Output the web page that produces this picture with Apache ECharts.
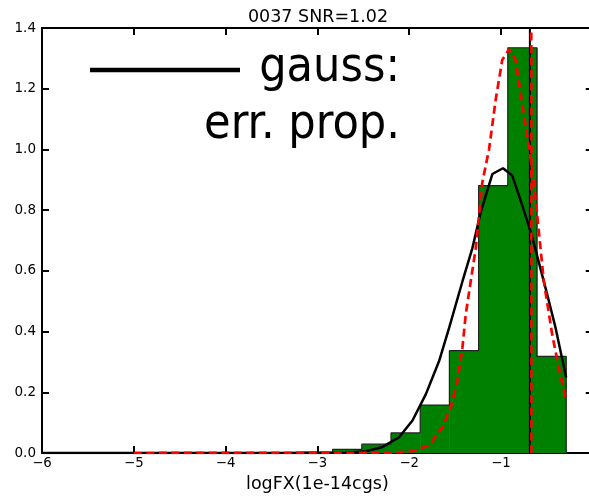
<!DOCTYPE html>
<html><head><meta charset="utf-8">
<script src="https://cdn.jsdelivr.net/npm/echarts@6/dist/echarts.min.js"></script>
<style>html,body{margin:0;padding:0;background:#fff;overflow:hidden}#c{width:600px;height:498px}</style>
</head><body><div id="c"></div>
<script>
const titleText = "0037 SNR=1.02";
const xName = "logFX(1e-14cgs)";
const xTicks = [-6,-5,-4,-3,-2,-1,0];
const yTicks = [0,0.2,0.4,0.6,0.8,1.0,1.2,1.4];
// histogram bins: [left edge, right edge, height]
const binEdges = [-3.470,-3.152,-2.834,-2.516,-2.198,-1.880,-1.562,-1.244,-0.926,-0.608,-0.290];
const binHeights = [0.003,0.004,0.012,0.029,0.066,0.158,0.337,0.881,1.335,0.318];
// gauss fit (black)
const gaussX = [-6.0,-3.0,-2.7,-2.47,-2.29,-2.11,-1.964,-1.818,-1.674,-1.565,-1.42,-1.312,-1.22,-1.094,-0.978,-0.877,-0.768,-0.66,-0.514,-0.405,-0.29];
const gaussY = [0.0,0.0,0.001,0.006,0.02,0.052,0.107,0.194,0.303,0.412,0.565,0.674,0.794,0.919,0.938,0.914,0.816,0.712,0.543,0.412,0.249];
// error propagation curve (red dashed)
const propX = [-5.0,-2.2,-1.964,-1.783,-1.638,-1.547,-1.475,-1.42,-1.384,-1.33,-1.275,-1.239,-1.203,-1.13,-1.057,-0.986,-0.913,-0.84,-0.804,-0.731,-0.66,-0.623,-0.587,-0.533,-0.442,-0.37,-0.297];
const propY = [0.0,0.001,0.006,0.025,0.085,0.15,0.238,0.347,0.456,0.565,0.674,0.783,0.892,1.0,1.165,1.295,1.33,1.295,1.219,1.077,0.935,0.837,0.728,0.565,0.39,0.281,0.183];
const blackVLine = -0.685;
const redVLine = -0.670;
const legendLabel = ["gauss:", "err. prop."];

const fontFam = "DejaVu Sans";
const binData = binHeights.map((h,i)=>[binEdges[i], binEdges[i+1], h]);
const stepOutline = [[binEdges[0],0]];
binHeights.forEach((h,i)=>{ stepOutline.push([binEdges[i],h]); stepOutline.push([binEdges[i+1],h]); });
stepOutline.push([binEdges[binEdges.length-1],0]);
const zip = (a,b)=>a.map((v,i)=>[v,b[i]]);
const fmt = v => (v<0 ? "\u2212"+Math.abs(v) : String(v));

const chart = echarts.init(document.getElementById('c'), null, {renderer:'canvas'});
const axisBase = {
  type:'value', axisLine:{show:true,onZero:false,lineStyle:{color:'#000',width:2}},
  splitLine:{show:false}, axisTick:{show:true,inside:true,length:7,lineStyle:{color:'#000',width:2}}
};
chart.setOption({
  animation:false,
  backgroundColor:'#fff',
  title:{text:titleText,left:318,top:8,padding:0,textAlign:'center',textStyle:{fontFamily:fontFam,fontSize:17.5,fontWeight:'normal',color:'#000'}},
  grid:{left:42,top:28,width:552,height:428},
  xAxis:[
    Object.assign({},axisBase,{min:-6,max:0,interval:1,position:'bottom',
      name:xName,nameLocation:'middle',nameGap:22,nameTextStyle:{fontFamily:fontFam,fontSize:17.5,color:'#000'},
      axisLabel:{fontFamily:fontFam,fontSize:13.3,color:'#000',margin:4,formatter:fmt}}),
    Object.assign({},axisBase,{min:-6,max:0,interval:1,position:'top',axisLabel:{show:false}})
  ],
  yAxis:[
    Object.assign({},axisBase,{min:0,max:1.4,interval:0.2,position:'left',
      axisLabel:{fontFamily:fontFam,fontSize:13.5,color:'#000',margin:6,formatter:v=>v.toFixed(1)}}),
    Object.assign({},axisBase,{min:0,max:1.4,interval:0.2,position:'right',axisLabel:{show:false}})
  ],
  series:[
    {type:'custom',data:binData,clip:true,z:2,
     renderItem:function(params,api){
       const p0=api.coord([api.value(0),api.value(2)]);
       const p1=api.coord([api.value(1),0]);
       return {type:'rect',shape:{x:p0[0],y:p0[1],width:p1[0]-p0[0]+0.5,height:p1[1]-p0[1]},
         style:{fill:'#008000',stroke:null}};
     }},
    {type:'line',data:stepOutline,showSymbol:false,symbol:'none',z:3,
     lineStyle:{color:'#222',width:1.2}},
    {type:'line',data:zip(gaussX,gaussY),showSymbol:false,symbol:'none',z:4,
     lineStyle:{color:'#000',width:2.5}},
    {type:'line',data:zip(propX,propY),showSymbol:false,symbol:'none',z:5,
     lineStyle:{color:'#ff0000',width:2.7,type:[8,4.5]}},
    {type:'line',data:[[blackVLine,0],[blackVLine,1.4]],showSymbol:false,symbol:'none',z:4,
     lineStyle:{color:'#000',width:2}},
    {type:'line',data:[[redVLine,0],[redVLine,1.4]],showSymbol:false,symbol:'none',z:5,
     lineStyle:{color:'#ff0000',width:2.7,type:[8,4.5]}}
  ],
  graphic:[
    {type:'line',shape:{x1:90,y1:70,x2:240,y2:70},style:{stroke:'#000',lineWidth:4.5},z:10},
    {type:'text',x:400,y:93,style:{text:legendLabel[0],fontFamily:"DejaVu Sans Condensed",fontSize:48,fill:'#000',textAlign:'right',textVerticalAlign:'bottom'},z:10},
    {type:'text',x:400,y:150,style:{text:legendLabel[1],fontFamily:"DejaVu Sans Condensed",fontSize:48,fill:'#000',textAlign:'right',textVerticalAlign:'bottom'},z:10}
  ]
});
</script></body></html>
